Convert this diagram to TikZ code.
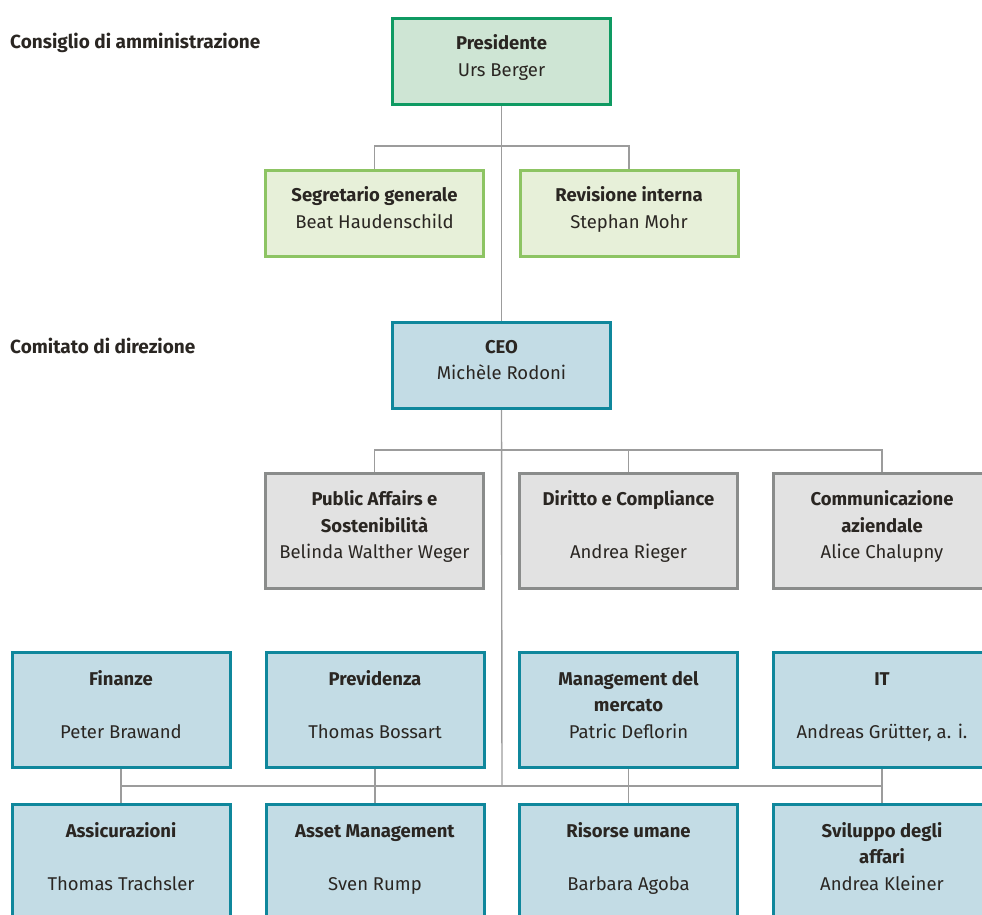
\documentclass[tikz,border=0pt]{standalone}
\usepackage{fontspec}
\setmainfont{Fira Sans}
\usetikzlibrary{backgrounds}
\definecolor{txt}{HTML}{2A2622}
\definecolor{lnc}{HTML}{9C9C9C}
\definecolor{dgB}{HTML}{0E9A62}\definecolor{dgF}{HTML}{CEE5D4}
\definecolor{lgB}{HTML}{8DC463}\definecolor{lgF}{HTML}{E7F0D9}
\definecolor{blB}{HTML}{0F879C}\definecolor{blF}{HTML}{C3DCE5}
\definecolor{gyB}{HTML}{8A8C8B}\definecolor{gyF}{HTML}{E2E2E2}
\newcommand\ts{\rule{0pt}{17pt}}
\newcommand\bs{\rule[-14pt]{0pt}{14pt}}
\tikzset{
  box/.style={rectangle, line width=3pt, align=center, text=txt,
    font=\fontsize{18.5}{26.5}\selectfont, inner sep=0pt,
    minimum width=218pt},
  twoh/.style={minimum height=86pt},
  threeh/.style={minimum height=115pt},
  pres/.style={box, twoh, draw=dgB, fill=dgF},
  lgreen/.style={box, twoh, draw=lgB, fill=lgF},
  blue2/.style={box, twoh, draw=blB, fill=blF},
  blue3/.style={box, threeh, draw=blB, fill=blF},
  grey3/.style={box, threeh, draw=gyB, fill=gyF},
  conn/.style={draw=lnc, line width=1.4pt},
  lbl/.style={anchor=base west, text=txt, font=\fontsize{19}{22}\selectfont\bfseries, inner sep=0pt}
}
\begin{document}
\begin{tikzpicture}[x=1pt,y=-1pt]
\useasboundingbox (0,0) rectangle (982,914);
\node[lbl] (l1) at (10,48) {Consiglio di amministrazione};
\node[lbl] (l2) at (10,353) {Comitato di direzione};

\node[pres] (pres) at (501.5,61.5) {\ts\textbf{Presidente}\\Urs Berger\bs};
\node[lgreen] (seg) at (374.5,213.5) {\ts\textbf{Segretario generale}\\Beat Haudenschild\bs};
\node[lgreen] (rev) at (629,213.5) {\ts\textbf{Revisione interna}\\Stephan Mohr\bs};
\node[blue2] (ceo) at (501.5,365) {\ts\textbf{CEO}\\Michèle Rodoni\bs};

\node[grey3] (pub) at (374.5,530.5) {\ts\textbf{Public Affairs e}\\\textbf{Sostenibilità}\\Belinda Walther Weger\bs};
\node[grey3] (dir) at (628.5,530.5) {\ts\textbf{Diritto e Compliance}\\\mbox{}\\Andrea Rieger\bs};
\node[grey3] (com) at (882,530.5) {\ts\textbf{Communicazione}\\\textbf{aziendale}\\Alice Chalupny\bs};

\node[blue3] (fin) at (121,710) {\ts\textbf{Finanze}\\\mbox{}\\Peter Brawand\bs};
\node[blue3] (prev) at (375,710) {\ts\textbf{Previdenza}\\\mbox{}\\Thomas Bossart\bs};
\node[blue3] (man) at (628.5,710) {\ts\textbf{Management del}\\\textbf{mercato}\\Patric Deflorin\bs};
\node[blue3] (it) at (882,710) {\ts\textbf{IT}\\\mbox{}\\Andreas Grütter, a. i.\bs};

\node[blue3] (ass) at (121,862) {\ts\textbf{Assicurazioni}\\\mbox{}\\Thomas Trachsler\bs};
\node[blue3] (asm) at (375,862) {\ts\textbf{Asset Management}\\\mbox{}\\Sven Rump\bs};
\node[blue3] (ris) at (628.5,862) {\ts\textbf{Risorse umane}\\\mbox{}\\Barbara Agoba\bs};
\node[blue3] (svi) at (882,862) {\ts\textbf{Sviluppo degli}\\\textbf{affari}\\Andrea Kleiner\bs};

\coordinate (bus1) at (502,146);
\coordinate (bus2) at (502,450);
\coordinate (bus3) at (502,786);

\begin{scope}[on background layer]
\draw[conn] (pres.south) -- (ceo.north);
\draw[conn] (seg.north) |- (bus1) -| (rev.north);
\draw[conn] (ceo.south) -- (bus3);
\draw[conn] (pub.north) |- (bus2) -| (com.north);
\draw[conn] (dir.north) -- (dir.north |- bus2);
\draw[conn] (fin.south) -- (ass.north);
\draw[conn] (prev.south) -- (asm.north);
\draw[conn] (man.south) -- (ris.north);
\draw[conn] (it.south) -- (svi.north);
\draw[conn] (fin.south |- bus3) -- (it.south |- bus3);
\end{scope}
\end{tikzpicture}
\end{document}
